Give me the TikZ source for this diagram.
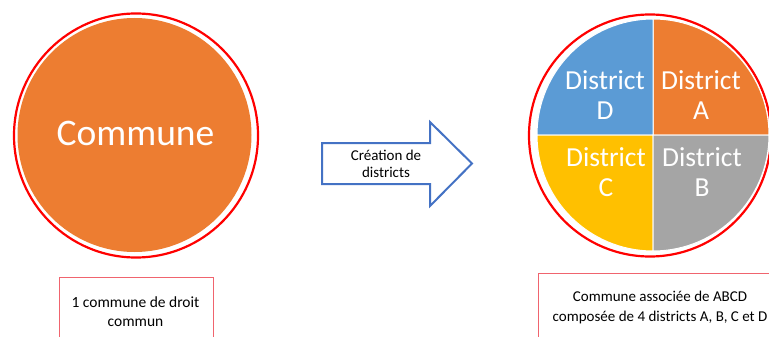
\documentclass[tikz,border=0pt]{standalone}
\usepackage{fontspec}
\setmainfont{Carlito}
\definecolor{orangefill}{HTML}{ED7D31}
\definecolor{bluefill}{HTML}{5B9BD5}
\definecolor{yellowfill}{HTML}{FFC000}
\definecolor{grayfill}{HTML}{A5A5A5}
\definecolor{arrowblue}{HTML}{4472C4}
\definecolor{boxred}{HTML}{F0646E}

\begin{document}
\begin{tikzpicture}
    [ x=1pt, y=-1pt,
      outline/.style={draw=red, line width=2.2pt},
      quarter/.style={draw=white, line width=1pt},
      district/.style={text=white, align=center,
                       font={\fontsize{27.5}{30}\selectfont}},
      caption/.style={draw=boxred, line width=.8pt},
      label/.style={align=center, font={\fontsize{15.5}{19}\selectfont}},
      flow/.style={draw=arrowblue, fill=white, line width=2pt,
                   line join=miter}
    ]
    \useasboundingbox (0, 0) rectangle (769, 337);

    % Commune before
    \draw[outline] (136, 135.5) circle (122);
    \fill[orangefill] (134.5, 135) circle (117);
    \node[text=white, font={\fontsize{37.5}{40}\selectfont}] (commune)
        at (135.5, 133) {Commune};

    % Caption left
    \draw[caption] (59, 277) rectangle (213, 345);
    \node[label] (droitcommun) at (135.5, 311.5)
        {1 commune de droit\\commun};

    % Arrow
    \path[flow] (322, 143) -- (430, 143) -- (430, 122) -- (472, 163.5)
        -- (430, 206) -- (430, 184) -- (322, 184) -- cycle;
    \node[label, font={\fontsize{15}{17}\selectfont}] (creation)
        at (386, 163.5) {Création de\\districts};

    % Commune after, four districts
    \draw[outline] (650, 135.5) circle (121);
    \begin{scope}[shift={(653, 135)}]
        \path[quarter, fill=orangefill] (0, 0) -- (116, 0)
            arc[start angle=0, end angle=-90, radius=116] -- cycle;
        \path[quarter, fill=bluefill] (0, 0) -- (0, -116)
            arc[start angle=-90, end angle=-180, radius=116] -- cycle;
        \path[quarter, fill=yellowfill] (0, 0) -- (-116, 0)
            arc[start angle=180, end angle=90, radius=116] -- cycle;
        \path[quarter, fill=grayfill] (0, 0) -- (0, 116)
            arc[start angle=90, end angle=0, radius=116] -- cycle;
    \end{scope}
    \node[district] (districtD) at (605, 95) {District\\D};
    \node[district] (districtA) at (701, 95) {District\\A};
    \node[district] (districtC) at (606, 172.5) {District\\C};
    \node[district] (districtB) at (702, 172.5) {District\\B};

    % Caption right
    \draw[caption] (538, 273) rectangle (800, 345);
    \node[label, font={\fontsize{15}{20}\selectfont}] (associee)
        at (660, 307) {Commune associée de ABCD\\
                       composée de 4 districts A, B, C et D};

\end{tikzpicture}
\end{document}
